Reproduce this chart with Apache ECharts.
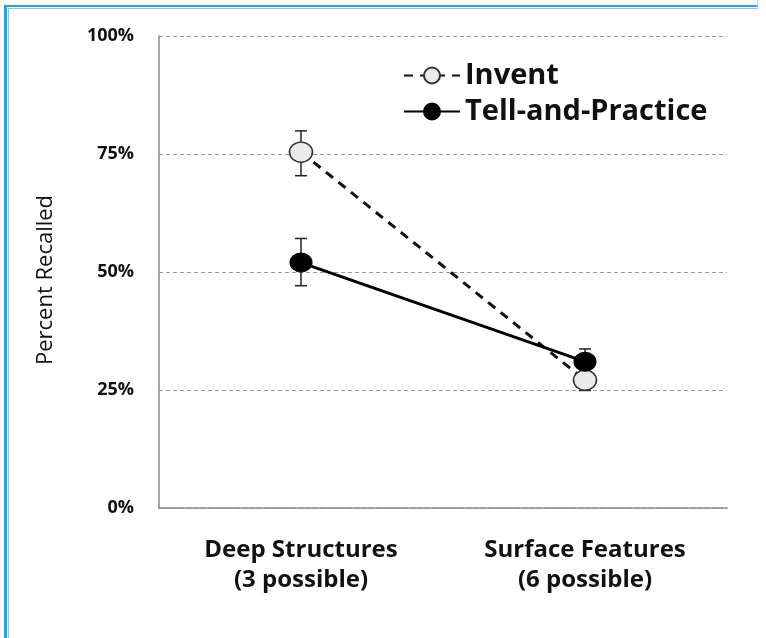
<!DOCTYPE html>
<html>
<head>
<meta charset="utf-8">
<script src="https://cdn.jsdelivr.net/npm/echarts@6/dist/echarts.min.js"></script>
<style>
  html, body { margin: 0; padding: 0; background: #fff; }
  #chart { width: 766px; height: 638px; }
</style>
</head>
<body>
<div id="chart"></div>
<script>
  // data (percent recalled)
  var categories = ['Deep Structures\n(3 possible)', 'Surface Features\n(6 possible)'];
  var inventMean = [75.4, 27.1];
  var inventLow  = [70.4, 24.9];
  var inventHigh = [79.9, 29.3];
  var tellMean = [52.0, 31.0];
  var tellLow  = [47.1, 28.3];
  var tellHigh = [57.1, 33.7];
  var yTicks = [0, 25, 50, 75, 100];

  var dom = document.getElementById("chart");
  var myChart = echarts.init(dom);
  var font = '"Open Sans", "Noto Sans", sans-serif';

  function errorData(low, high) {
      var out = [];
      for (var i = 0; i < low.length; i++) {
          out.push([i, low[i], high[i]]);
      }
      return out;
  }

  // draws a vertical whisker with caps
  function renderError(params, api) {
      var x = api.value(0);
      var lo = api.coord([x, api.value(1)]);
      var hi = api.coord([x, api.value(2)]);
      var cap = 6;
      var st = { stroke: '#222', lineWidth: 1.5 };
      return {
          type: 'group',
          children: [
              { type: 'line', shape: { x1: lo[0], y1: lo[1], x2: hi[0], y2: hi[1] }, style: st },
              { type: 'line', shape: { x1: lo[0] - cap, y1: lo[1], x2: lo[0] + cap, y2: lo[1] }, style: st },
              { type: 'line', shape: { x1: hi[0] - cap, y1: hi[1], x2: hi[0] + cap, y2: hi[1] }, style: st }
          ]
      };
  }

  var option = {
      backgroundColor: '#fff',
      animation: false,
      graphic: [
          { type: 'rect', shape: { x: 4, y: 5, width: 3, height: 640 }, style: { fill: '#1ea6e4' } },
          { type: 'rect', shape: { x: 4, y: 5, width: 754, height: 2 }, style: { fill: '#1ea6e4' } },
          { type: 'rect', shape: { x: 8, y: 8, width: 1, height: 640 }, style: { fill: '#b8b8b8' } },
          { type: 'rect', shape: { x: 8, y: 8, width: 750, height: 1 }, style: { fill: '#b8b8b8' } },
          { type: 'rect', shape: { x: 757, y: 0, width: 1, height: 8 }, style: { fill: '#cfcfcf' } }
      ],
      legend: {
          orient: 'vertical',
          left: 398,
          top: 56,
          itemWidth: 56,
          itemHeight: 20,
          itemGap: 7,
          data: ['Invent', 'Tell-and-Practice'],
          textStyle: {
              fontFamily: font,
              fontWeight: 'bold',
              fontSize: 29,
              lineHeight: 28,
              color: '#111',
              padding: [0, 0, 0, 0]
          }
      },
      grid: {
          left: 159,
          right: 39,
          top: 36,
          bottom: 130
      },
      xAxis: {
          type: 'category',
          data: categories,
          boundaryGap: true,
          axisTick: { show: false },
          axisLine: { lineStyle: { color: '#8a8a8a', width: 1.5 } },
          axisLabel: {
              fontFamily: font,
              fontWeight: 'bold',
              fontSize: 24,
              lineHeight: 30,
              color: '#111',
              margin: 27
          }
      },
      yAxis: {
          type: 'value',
          min: yTicks[0],
          max: yTicks[yTicks.length - 1],
          interval: 25,
          name: 'Percent Recalled',
          nameLocation: 'middle',
          nameGap: 102,
          nameRotate: 90,
          nameTextStyle: {
              fontFamily: font,
              fontSize: 22,
              color: '#111',
              padding: [0, 16, 0, 0]
          },
          axisLine: { show: true, lineStyle: { color: '#8a8a8a', width: 1.5 } },
          axisTick: { show: false },
          axisLabel: {
              formatter: '{value}%',
              fontFamily: font,
              fontWeight: 'bold',
              fontSize: 18,
              color: '#111',
              margin: 25
          },
          splitLine: {
              lineStyle: { color: '#9a9a9a', type: [4, 3], width: 1 }
          }
      },
      series: [
          {
              name: 'Invent-err',
              type: 'custom',
              renderItem: renderError,
              data: errorData(inventLow, inventHigh),
              encode: { x: 0, y: [1, 2] },
              z: 1
          },
          {
              name: 'Tell-err',
              type: 'custom',
              renderItem: renderError,
              data: errorData(tellLow, tellHigh),
              encode: { x: 0, y: [1, 2] },
              z: 1
          },
          {
              name: 'Invent',
              type: 'line',
              data: inventMean,
              symbol: 'circle',
              symbolSize: [23, 20],
              lineStyle: { color: '#111', width: 3, type: [9, 7] },
              itemStyle: { color: '#ececec', borderColor: '#333', borderWidth: 1.5 },
              z: 3
          },
          {
              name: 'Tell-and-Practice',
              type: 'line',
              data: tellMean,
              symbol: 'circle',
              symbolSize: [22, 19],
              lineStyle: { color: '#000', width: 3 },
              itemStyle: { color: '#000', borderColor: '#000', borderWidth: 1 },
              z: 4
          }
      ]
  };

  if (option && typeof option === "object") {
      myChart.setOption(option, true);
  }
</script>
</body>
</html>
